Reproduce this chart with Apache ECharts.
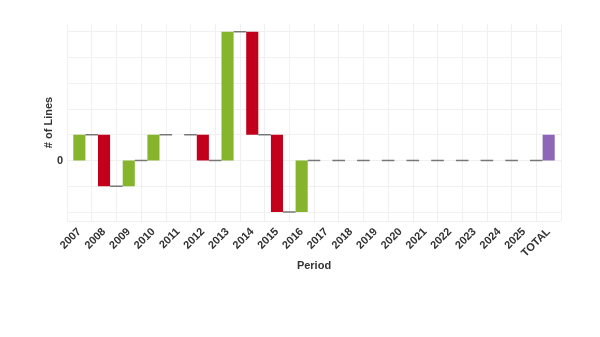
<!DOCTYPE html>
<html>
<head>
<meta charset="utf-8">
<script src="https://cdn.jsdelivr.net/npm/echarts@6/dist/echarts.min.js"></script>
<style>
  html, body { margin: 0; padding: 0; background: #fff; }
  #chart { width: 600px; height: 337px; }
</style>
</head>
<body>
<div id="chart"></div>
<script>
// Yearly change in the number of lines, plus the overall total
const categories = ['2007', '2008', '2009', '2010', '2011', '2012', '2013', '2014', '2015', '2016',
  '2017', '2018', '2019', '2020', '2021', '2022', '2023', '2024', '2025', 'TOTAL'];
const changes = [1, -2, 1, 1, 0, -1, 5, -4, -3, 2, 0, 0, 0, 0, 0, 0, 0, 0, 0];
const totalValue = [1];

const COLOR_UP = '#86b42c';
const COLOR_DOWN = '#c3001b';
const COLOR_TOTAL = '#8d66b7';
const TEXT = '#333333';
const FONT = 'Liberation Sans, Arial, sans-serif';

// Build floating bar segments [index, start, end, type]
const segments = [];
let level = 0;
changes.forEach((c, i) => {
  segments.push([i, level, level + c, c >= 0 ? 'up' : 'down']);
  level += c;
});
segments.push([changes.length, 0, totalValue[0], 'total']);

// Connectors: from the end of each bar to the next one, at the running level
const connectors = [];
for (let i = 0; i < segments.length - 1; i++) {
  connectors.push([i, segments[i][2]]);
}

const BAR_RATIO = 0.49;

const chart = echarts.init(document.getElementById('chart'));
chart.setOption({
  animation: false,
  grid: { left: 67, right: 39, top: 24, bottom: 116 },
  xAxis: {
    type: 'category',
    data: categories,
    boundaryGap: true,
    name: 'Period',
    nameLocation: 'middle',
    nameGap: 39,
    nameMoveOverlap: false,
    nameTextStyle: { color: TEXT, fontFamily: FONT, fontWeight: 'bold', fontSize: 11 },
    axisLine: { show: false },
    axisTick: { show: false },
    axisLabel: {
      rotate: 45, interval: 0, color: TEXT, fontFamily: FONT, fontWeight: 'bold', fontSize: 11, margin: 9
    },
    splitLine: { show: true, interval: 0, lineStyle: { color: '#f0f0f0', width: 1 } }
  },
  yAxis: {
    type: 'value',
    min: -2.35,
    max: 5.3,
    splitNumber: 8,
    name: '# of Lines',
    nameLocation: 'middle',
    nameGap: 13,
    nameMoveOverlap: false,
    nameRotate: 90,
    nameTextStyle: { color: TEXT, fontFamily: FONT, fontWeight: 'bold', fontSize: 11 },
    axisLine: { show: false },
    axisTick: { show: false },
    axisLabel: {
      color: TEXT, fontFamily: FONT, fontWeight: 'bold', fontSize: 11, margin: 4,
      formatter: v => (v === 0 ? '0' : '')
    },
    splitLine: { show: true, showMaxLine: false, lineStyle: { color: '#f0f0f0', width: 1 } }
  },
  series: [
    {
      type: 'custom',
      data: segments,
      encode: { x: 0, y: [1, 2] },
      renderItem: (params, api) => {
        const i = api.value(0);
        const p0 = api.coord([i, api.value(1)]);
        const p1 = api.coord([i, api.value(2)]);
        const w = api.size([1, 0])[0] * BAR_RATIO;
        const type = segments[params.dataIndex][3];
        const fill = type === 'up' ? COLOR_UP : type === 'down' ? COLOR_DOWN : COLOR_TOTAL;
        return {
          type: 'rect',
          shape: { x: p0[0] - w / 2, y: Math.min(p0[1], p1[1]), width: w, height: Math.abs(p1[1] - p0[1]) },
          style: { fill: fill }
        };
      },
      z: 2
    },
    {
      type: 'custom',
      data: connectors,
      encode: { x: 0, y: 1 },
      renderItem: (params, api) => {
        const i = api.value(0);
        const a = api.coord([i, api.value(1)]);
        const b = api.coord([i + 1, api.value(1)]);
        const w = api.size([1, 0])[0] * BAR_RATIO;
        return {
          type: 'line',
          shape: { x1: a[0] + w / 2, y1: a[1], x2: b[0] - w / 2, y2: b[1] },
          style: { stroke: '#777777', lineWidth: 1.5 }
        };
      },
      z: 3
    }
  ]
});
</script>
</body>
</html>
